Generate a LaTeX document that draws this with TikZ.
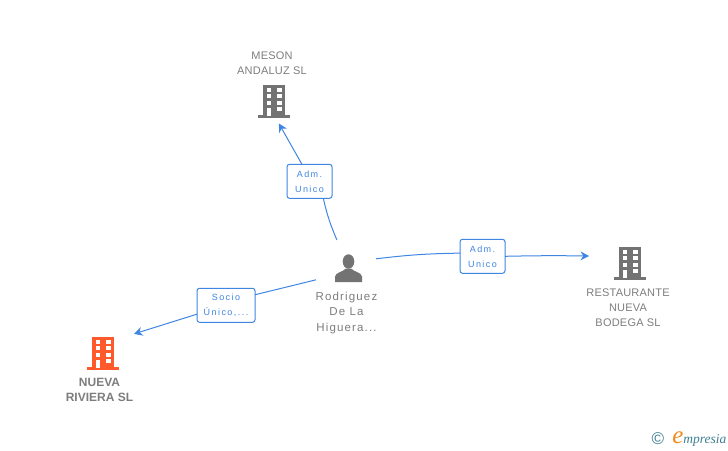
\documentclass[tikz,border=0pt]{standalone}
\usepackage{fontspec}
\setmainfont{Liberation Sans}
\newfontfamily\spacedfont[LetterSpace=2]{Liberation Sans}
\newfontfamily\personfont[LetterSpace=10]{Liberation Sans}
\newfontfamily\widefont[LetterSpace=16]{Liberation Sans}
\newfontfamily\logofont{Liberation Serif}
\usetikzlibrary{positioning,arrows.meta}
\definecolor{LinkBlue}{HTML}{3F86E2}
\definecolor{IconGray}{HTML}{737373}
\definecolor{TextGray}{HTML}{7D7D7D}
\definecolor{BrandOrange}{HTML}{FF5A2C}
\definecolor{LogoTeal}{HTML}{3F7F92}
\definecolor{LogoOrange}{HTML}{F08A1D}
\newcommand{\buildingshape}[1]{%
  \fill[#1] (-11,-16) rectangle (11,16);
  \fill[#1] (-16,14.5) rectangle (16,17);
  \foreach \py in {-13,-6.5,0} {
    \fill[white] (-7,\py) rectangle (-2.6,\py+4.3);
    \fill[white] (3,\py) rectangle (7.8,\py+4.3);
  }
  \fill[white] (3,6.3) rectangle (7.8,10.6);
  \fill[white] (-6.6,7.4) rectangle (-2.8,15);
}
\begin{document}
\begin{tikzpicture}[
      x=1pt, y=-1pt,
      node distance=0pt,
      every node/.style={align=center, inner sep=0pt, outer sep=0pt},
      building/.style={minimum width=44pt, minimum height=46pt,
        path picture={\begin{scope}[shift={(path picture bounding box.center)}]\buildingshape{#1}\end{scope}}},
      building/.default=IconGray,
      entity/.style={font=\spacedfont\fontsize{11}{15}\selectfont, text=TextGray},
      boldentity/.style={font=\bfseries\fontsize{12}{15}\selectfont, text=TextGray},
      role/.style={draw=LinkBlue, fill=white, rounded corners=2.5pt, line width=1pt, text=LinkBlue,
        minimum height=34pt, minimum width=45pt, font=\widefont\fontsize{9}{15}\selectfont},
      link/.style={LinkBlue, line width=1pt},
      arrow/.style={link, -{Stealth[length=8.5pt,width=9pt]}}
    ]
      \useasboundingbox (0,0) rectangle (728,450);

      \node[building] (meson) at (274,100.5) {};
      \node[building, minimum width=82pt] (restaurante) at (630,262.5) {};
      \node[building=BrandOrange, minimum width=62pt] (nueva) at (103,352.5) {};
      \node[minimum width=60pt, minimum height=45pt,
        path picture={\begin{scope}[shift={(path picture bounding box.center)}]
          \fill[IconGray] (2.5,-1) ellipse (5.8 and 7.2);
          \fill[IconGray] (-11,19.5) -- (-11,14) .. controls (-10,9.5) and (-4,10) .. (0,6) -- (5,6)
            .. controls (9,10) and (15,9.5) .. (16,14) -- (16,19.5) -- cycle;
        \end{scope}}] (person) at (346,262.5) {};

      \node[role] (admmeson) at (309.5,181.3) {Adm.\\Unico};
      \node[role] (admrest) at (482.5,256.3) {Adm.\\Unico};
      \node[role, minimum width=58pt] (socio) at (226,305.3) {Socio\\Único,...};

      \draw[link] (person.112) to[bend left=5] (admmeson.-51);
      \draw[arrow] (admmeson.114) -- (meson.-78);
      \draw[link] (person.7) to[bend left=3] (admrest.172);
      \draw[arrow] (admrest.east) to[bend left=1] (restaurante.171);
      \draw[link] (person.210) -- (socio.20);
      \draw[arrow] (socio.-163) -- (nueva.31);

      % Labels
      \node[entity, above=2.5pt of meson, xshift=-2pt] (mesonname) {MESON\\ANDALUZ SL};
      \node[entity, below=3.5pt of restaurante, xshift=-2pt] (restname) {RESTAURANTE\\NUEVA\\BODEGA SL};
      \node[entity, font=\personfont\fontsize{11.5}{15.5}\selectfont, below=7pt of person, xshift=0.5pt] (personname) {Rodriguez\\De La\\Higuera...};
      \node[boldentity, below=2.5pt of nueva, xshift=-3.5pt] (nuevaname) {NUEVA\\RIVIERA SL};

      % Logo
      \node[font=\fontsize{17}{17}\selectfont, text=LogoTeal] (copyr) at (658,439) {©};
      \node[right=8pt of copyr, font=\logofont\itshape\fontsize{13.5}{14}\selectfont, text=LogoTeal] (logo)
        {{\color{LogoOrange}\fontsize{25}{25}\selectfont e}mpresia};
    \end{tikzpicture}
\end{document}
